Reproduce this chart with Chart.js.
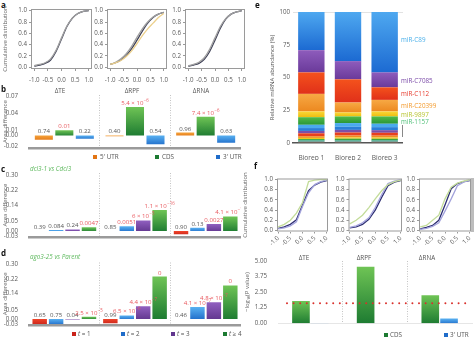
<!DOCTYPE html>
<html>
<head>
<meta charset="utf-8">
<script src="https://cdn.jsdelivr.net/npm/chart.js@4.4.1/dist/chart.umd.min.js"></script>
<style>
  html, body { margin: 0; padding: 0; background: #fff; overflow: hidden; }
  body { width: 474px; height: 340px; position: relative; font-family: 'Open Sans', sans-serif; color: #555; }
  canvas { position: absolute; }
  .txt { position: absolute; white-space: nowrap; line-height: 1; transform: translateY(-50%); }
  .txt.mid { transform: translate(-50%, -50%); }
  .sw { position: absolute; width: 4px; height: 4px; }
</style>
</head>
<body>
<script>
// ---- a: cumulative distributions (ΔTE, ΔRPF, ΔRNA)
const cdfX = [-1.0, -0.8, -0.6, -0.4, -0.2, 0.0, 0.2, 0.4, 0.6, 0.8, 1.0];
const aTeDark = [0.02, 0.04, 0.07, 0.13, 0.28, 0.50, 0.72, 0.87, 0.95, 0.99, 1.00];
const aTeGrey = [0.03, 0.05, 0.08, 0.15, 0.30, 0.52, 0.73, 0.87, 0.95, 0.99, 1.00];
const aRpfDark = [0.05, 0.08, 0.13, 0.21, 0.33, 0.48, 0.64, 0.78, 0.88, 0.94, 0.97];
const aRpfGrey = [0.05, 0.09, 0.15, 0.24, 0.37, 0.53, 0.68, 0.80, 0.89, 0.94, 0.97];
const aRpfYellow = [0.05, 0.08, 0.12, 0.19, 0.29, 0.42, 0.56, 0.68, 0.78, 0.88, 0.95];
const aRnaDark = [0.02, 0.04, 0.07, 0.14, 0.28, 0.48, 0.69, 0.85, 0.94, 0.98, 1.00];
const aRnaGrey = [0.03, 0.05, 0.09, 0.17, 0.32, 0.52, 0.72, 0.86, 0.94, 0.98, 1.00];

// ---- b, c, d: area differences with P values
const groups = ['ΔTE', 'ΔRPF', 'ΔRNA'];
const bUtr5 = [-0.008, -0.0015, 0.005];
const bCds = [0.009, 0.0505, 0.033];
const bUtr3 = [-0.006, -0.016, -0.013];
const bUtr5P = ['0.74', '0.40', '0.96'];
const bCdsP = ['0.01', '5.4 × 10^−6', '7.4 × 10^−6'];
const bUtr3P = ['0.22', '0.54', '0.63'];

const cT1 = [0, 0, -0.017];
const cT2 = [0.006, 0.026, 0.018];
const cT3 = [0.009, 0.057, 0.038];
const cT4 = [0.021, 0.112, 0.078];
const cT1P = ['0.39', '0.85', '0.90'];
const cT2P = ['0.084', '0.0051', '0.13'];
const cT3P = ['0.24', '6 × 10^−5', '0.0027'];
const cT4P = ['0.0047', '1.1 × 10^−16', '4.1 × 10^−12'];

const dT1 = [-0.028, -0.024, 0];
const dT2 = [-0.028, 0.019, 0.066];
const dT3 = [-0.003, 0.069, 0.092];
const dT4 = [0.012, 0.233, 0.184];
const dT1P = ['0.65', '0.99', '0.46'];
const dT2P = ['0.75', '6.5 × 10^−6', '4.1 × 10^−7'];
const dT3P = ['0.04', '4.4 × 10^−7', '4.8 × 10^−7'];
const dT4P = ['2.5 × 10^−5', '0', '0'];

const bTicks = [-0.02, 0.00, 0.01, 0.04, 0.07];
const cdTicks = [-0.03, 0.00, 0.05, 0.14, 0.22, 0.30];

// ---- e: relative miRNA abundance, stacked bottom to top
const bioreps = ['Biorep 1', 'Biorep 2', 'Biorep 3'];
const eMinor1 = [1.0, 1.0, 1.0];
const eMinor2 = [1.0, 1.0, 1.0];
const eMinor3 = [1.0, 1.3, 1.2];
const eMinor4 = [0.9, 1.0, 1.0];
const eMinor5 = [1.3, 1.4, 1.4];
const eMinor6 = [2.2, 2.3, 2.2];
const eMinor7 = [1.8, 2.0, 2.0];
const eMinor8 = [2.2, 2.4, 2.3];
const eMinor9 = [2.5, 2.8, 2.6];
const e1157 = [5.8, 5.1, 5.6];
const e9897 = [4.4, 3.0, 3.8];
const eC20399 = [13.4, 7.6, 8.8];
const eC112 = [16.4, 17.7, 9.6];
const eC7085 = [17.0, 13.9, 11.4];
const eC89 = [29.1, 37.5, 46.1];

// ---- f: cumulative distributions and significance
const cdfX2 = [-1.0, -0.75, -0.5, -0.25, 0.0, 0.25, 0.5, 0.75, 1.0];
const fTeNavy = [0.04, 0.07, 0.12, 0.21, 0.50, 0.78, 0.89, 0.95, 0.98];
const fTeLav = [0.03, 0.05, 0.09, 0.17, 0.47, 0.74, 0.90, 0.96, 0.99];
const fTeGreen = [0.07, 0.12, 0.20, 0.34, 0.55, 0.96, 0.99, 1.00, 1.00];
const fRpfNavy = [0.05, 0.07, 0.12, 0.22, 0.40, 0.65, 0.88, 0.95, 0.98];
const fRpfLav = [0.06, 0.09, 0.15, 0.25, 0.45, 0.70, 0.92, 0.97, 1.00];
const fRpfGreen = [0.13, 0.20, 0.30, 0.45, 0.62, 0.78, 0.90, 0.96, 0.99];
const fRnaNavy = [0.03, 0.06, 0.10, 0.20, 0.50, 0.82, 0.92, 0.96, 0.98];
const fRnaLav = [0.02, 0.04, 0.08, 0.15, 0.38, 0.62, 0.88, 0.95, 0.99];
const fRnaGreen = [0.07, 0.10, 0.20, 0.30, 0.62, 0.85, 0.93, 0.97, 1.00];
const fCds = [1.78, 4.54, 2.26];
const fUtr3 = [0.03, 0, 0.38];
const pThreshold = 1.6;

const cdfTicksX = [-1, -0.5, 0, 0.5, 1];
const cdfTicksY = [0, 0.2, 0.4, 0.6, 0.8, 1.0];

const FONT = "'Open Sans', sans-serif";
const pRed = '#e8585e';

Chart.defaults.font.family = FONT;
Chart.defaults.font.size = 6.2;
Chart.defaults.color = '#5a5a5a';
Chart.defaults.animation = false;
Chart.defaults.plugins.legend.display = false;
Chart.defaults.plugins.tooltip.enabled = false;

function makeCanvas(left, top, w, h) {
  const c = document.createElement('canvas');
  c.width = w; c.height = h;
  c.style.left = left + 'px'; c.style.top = top + 'px';
  c.style.width = w + 'px'; c.style.height = h + 'px';
  document.body.appendChild(c);
  return c;
}

function addText(str, x, y, o = {}) {
  const d = document.createElement('div');
  d.className = o.center ? 'txt mid' : 'txt';
  if (o.html) d.innerHTML = str; else d.textContent = str;
  d.style.left = x + 'px';
  d.style.top = y + 'px';
  d.style.fontSize = (o.size || 6.3) + 'px';
  d.style.color = o.color || '#555';
  if (o.italic) d.style.fontStyle = 'italic';
  if (o.bold) d.style.fontWeight = 'bold';
  document.body.appendChild(d);
}

function addSwatch(x, y, color) {
  const d = document.createElement('div');
  d.className = 'sw';
  d.style.left = x + 'px'; d.style.top = y + 'px';
  d.style.background = color;
  document.body.appendChild(d);
}

// box around the plotting area of the small distribution plots
const framePlugin = {
  id: 'frame',
  afterDraw(chart, args, opts) {
    const { ctx, chartArea: a } = chart;
    ctx.save();
    ctx.strokeStyle = opts.color || '#999';
    ctx.lineWidth = 1;
    ctx.strokeRect(a.left + 0.5, a.top + 0.5, a.width - 1, a.height - 1);
    ctx.restore();
  }
};

// P value above each bar, red when significant, exponent after '^'
const pLabelPlugin = {
  id: 'pLabels',
  afterDatasetsDraw(chart) {
    const ctx = chart.ctx;
    const zero = chart.scales.y.getPixelForValue(0);
    chart.data.datasets.forEach((ds, di) => {
      if (!ds.pLabels) return;
      chart.getDatasetMeta(di).data.forEach((bar, i) => {
        const [base, exp] = ds.pLabels[i].split('^');
        const sig = exp !== undefined || parseFloat(base) < 0.025;
        const y = Math.min(bar.y, zero) - 2;
        ctx.save();
        ctx.fillStyle = sig ? pRed : '#555';
        ctx.textAlign = 'left';
        ctx.textBaseline = 'alphabetic';
        ctx.font = '6.1px ' + FONT;
        const w1 = ctx.measureText(base).width;
        ctx.font = '4.4px ' + FONT;
        const w2 = exp ? ctx.measureText(exp).width + 0.4 : 0;
        const x = bar.x - (w1 + w2) / 2;
        ctx.font = '6.1px ' + FONT;
        ctx.fillText(base, x, y);
        if (exp) {
          ctx.font = '4.4px ' + FONT;
          ctx.fillText(exp, x + w1 + 0.4, y - 3);
        }
        ctx.restore();
      });
    });
  }
};

const thresholdPlugin = {
  id: 'threshold',
  afterDatasetsDraw(chart, args, opts) {
    const { ctx, chartArea: a } = chart;
    const y = chart.scales.y.getPixelForValue(opts.value);
    ctx.save();
    ctx.strokeStyle = opts.color;
    ctx.lineWidth = 2;
    ctx.lineCap = 'round';
    ctx.setLineDash([0, 6.6]);
    ctx.beginPath();
    ctx.moveTo(a.left + 9, y);
    ctx.lineTo(a.right - 2, y);
    ctx.stroke();
    ctx.restore();
  }
};

// vertical gradient from the bar end (light) to the zero line (dark)
function barFill(light, dark) {
  return c => {
    const ch = c.chart;
    if (!ch.chartArea || c.raw === undefined) return dark;
    const y = ch.scales.y;
    const p0 = y.getPixelForValue(0), p1 = y.getPixelForValue(c.raw);
    const g = ch.ctx.createLinearGradient(0, Math.min(p0, p1), 0, Math.max(p0, p1) + 1);
    g.addColorStop(0, light);
    g.addColorStop(1, dark);
    return g;
  };
}

function cdfChart(box, curves, o) {
  const cv = makeCanvas(box.left, box.top, box.w, box.h);
  return new Chart(cv, {
    type: 'line',
    data: {
      datasets: curves.map(cu => ({
        data: o.xs.map((x, i) => ({ x, y: cu.ys[i] })),
        borderColor: cu.color,
        borderWidth: cu.width || 1.3,
        pointRadius: 0,
        fill: false,
        cubicInterpolationMode: o.smooth ? 'monotone' : 'default',
        tension: 0
      }))
    },
    options: {
      responsive: false,
      devicePixelRatio: 1,
      layout: { padding: { top: box.padTop, right: box.padRight, bottom: 0, left: 0 } },
      scales: {
        x: {
          type: 'linear', min: o.xMin, max: o.xMax,
          afterBuildTicks: s => { s.ticks = cdfTicksX.map(v => ({ value: v })); },
          afterFit: s => { s.height = box.xH; },
          ticks: { callback: v => v.toFixed(1), padding: o.xPad, minRotation: o.rot, maxRotation: o.rot, autoSkip: false },
          grid: { drawOnChartArea: false, tickLength: 2, color: '#999' },
          border: { display: false }
        },
        y: {
          min: o.yMin, max: o.yMax,
          afterBuildTicks: s => { s.ticks = cdfTicksY.map(v => ({ value: v })); },
          afterFit: s => { s.width = box.yW; },
          ticks: { callback: v => v.toFixed(1), padding: 2, autoSkip: false },
          grid: { drawOnChartArea: false, tickLength: 2, color: '#999' },
          border: { display: false },
          title: { display: !!box.title, text: box.title || '', color: '#666', font: { size: 6 }, padding: { top: box.titlePad || 3, bottom: 0 } }
        }
      },
      plugins: { frame: { color: '#9a9a9a' } }
    },
    plugins: [framePlugin]
  });
}

function barChart(box, o) {
  const cv = makeCanvas(box.left, box.top, box.w, box.h);
  return new Chart(cv, {
    type: 'bar',
    data: {
      labels: groups,
      datasets: o.series.map(s => ({
        data: s.data,
        pLabels: s.p,
        backgroundColor: barFill(s.light, s.dark),
        borderWidth: 0,
        categoryPercentage: o.cp,
        barPercentage: o.bp
      }))
    },
    options: {
      responsive: false,
      devicePixelRatio: 1,
      layout: { padding: { top: box.padTop, right: box.padRight, bottom: box.padBottom, left: 0 } },
      scales: {
        x: {
          offset: true,
          afterFit: s => { s.height = 0; },
          ticks: { display: false },
          grid: { drawTicks: false, color: c => (c.index >= 1 && c.index <= o.lastDivider) ? '#c4c4c4' : 'rgba(0,0,0,0)' },
          border: { display: o.axisWidth > 0, color: o.axisColor, width: o.axisWidth, dash: [1, 1.5] }
        },
        y: {
          min: o.min, max: o.max,
          afterBuildTicks: s => { s.ticks = o.ticks.map(v => ({ value: v })); },
          afterFit: s => { s.width = box.yW; },
          ticks: { callback: v => v.toFixed(2), padding: 3, autoSkip: false },
          grid: { display: false },
          border: { display: false },
          title: { display: true, text: o.title, color: '#666', font: { size: 6 }, padding: { top: o.titlePad, bottom: 0 } }
        }
      },
      plugins: { threshold: o.threshold || {} }
    },
    plugins: o.threshold ? [thresholdPlugin] : [pLabelPlugin]
  });
}

const GREEN = ['#6fc455', '#1c7a31'];
const BLUE = ['#5ab2f2', '#1f6cc9'];
const ORANGE = ['#f5a23a', '#e27514'];
const RED = ['#f0452a', '#c9231a'];
const PURPLE = ['#9160c0', '#61368e'];

// ---- a
addText('a', 1, 5, { bold: true, size: 8, color: '#111' });
cdfChart({ left: 0, top: 0, w: 100, h: 90, yW: 31, padTop: 9, padRight: 8, xH: 21, title: 'Cumulative distribution', titlePad: 2 },
  [{ ys: aTeGrey, color: '#a0a0a0' }, { ys: aTeDark, color: '#404258' }],
  { xs: cdfX, smooth: true, xMin: -1.12, xMax: 1.12, yMin: -0.03, yMax: 1.03, xPad: 6, rot: 0 });
cdfChart({ left: 80, top: 0, w: 95, h: 90, yW: 27, padTop: 9, padRight: 8, xH: 21 },
  [{ ys: aRpfYellow, color: '#ecd08c' }, { ys: aRpfGrey, color: '#a0a0a0' }, { ys: aRpfDark, color: '#404258' }],
  { xs: cdfX, smooth: true, xMin: -1.12, xMax: 1.12, yMin: -0.03, yMax: 1.03, xPad: 6, rot: 0 });
cdfChart({ left: 158, top: 0, w: 95, h: 90, yW: 27, padTop: 9, padRight: 8, xH: 21 },
  [{ ys: aRnaGrey, color: '#a0a0a0' }, { ys: aRnaDark, color: '#404258' }],
  { xs: cdfX, smooth: true, xMin: -1.12, xMax: 1.12, yMin: -0.03, yMax: 1.03, xPad: 6, rot: 0 });

// ---- b
addText('b', 1, 89, { bold: true, size: 8, color: '#111' });
addText(groups[0], 60, 90.5, { center: true });
addText(groups[1], 132, 90.5, { center: true });
addText(groups[2], 201, 90.5, { center: true });
barChart({ left: 0, top: 85, w: 241, h: 70, yW: 29, padTop: 10, padRight: 0, padBottom: 3 }, {
  min: -0.023, max: 0.072, ticks: bTicks, title: 'Area difference', titlePad: 1.5,
  cp: 0.87, bp: 0.88, lastDivider: 3, axisColor: '#9a9a9a', axisWidth: 2.5,
  series: [
    { data: bUtr5, p: bUtr5P, light: ORANGE[0], dark: ORANGE[1] },
    { data: bCds, p: bCdsP, light: GREEN[0], dark: GREEN[1] },
    { data: bUtr3, p: bUtr3P, light: BLUE[0], dark: BLUE[1] }
  ]
});
addSwatch(93, 155, ORANGE[1]); addText('5′ UTR', 100, 157);
addSwatch(155, 155, GREEN[1]); addText('CDS', 162, 157);
addSwatch(216, 155, BLUE[1]); addText('3′ UTR', 223, 157);

// ---- c
addText('c', 1, 169, { bold: true, size: 8, color: '#111' });
addText('dcl3-1 vs Cdcl3', 30, 169, { italic: true, color: '#5cb85c' });
barChart({ left: 0, top: 165, w: 241, h: 79, yW: 29, padTop: 8, padRight: 0, padBottom: 3 }, {
  min: -0.033, max: 0.31, ticks: cdTicks, title: 'Area difference', titlePad: 1.5,
  cp: 0.93, bp: 0.88, lastDivider: 3, axisColor: '#9a9a9a', axisWidth: 2.5,
  series: [
    { data: cT1, p: cT1P, light: RED[0], dark: RED[1] },
    { data: cT2, p: cT2P, light: BLUE[0], dark: BLUE[1] },
    { data: cT3, p: cT3P, light: PURPLE[0], dark: PURPLE[1] },
    { data: cT4, p: cT4P, light: GREEN[0], dark: GREEN[1] }
  ]
});

// ---- d
addText('d', 1, 253, { bold: true, size: 8, color: '#111' });
addText('ago3-25 vs Parent', 30, 257, { italic: true, color: '#5cb85c' });
barChart({ left: 0, top: 250, w: 241, h: 82, yW: 29, padTop: 12.5, padRight: 0, padBottom: 3.3 }, {
  min: -0.035, max: 0.31, ticks: cdTicks, title: 'Area difference', titlePad: 1.5,
  cp: 0.93, bp: 0.88, lastDivider: 3, axisColor: '#9a9a9a', axisWidth: 2.5,
  series: [
    { data: dT1, p: dT1P, light: RED[0], dark: RED[1] },
    { data: dT2, p: dT2P, light: BLUE[0], dark: BLUE[1] },
    { data: dT3, p: dT3P, light: PURPLE[0], dark: PURPLE[1] },
    { data: dT4, p: dT4P, light: GREEN[0], dark: GREEN[1] }
  ]
});
addSwatch(72, 332, RED[1]); addText('<i>t</i> = 1', 78, 334, { html: true });
addSwatch(121, 332, BLUE[1]); addText('<i>t</i> = 2', 127, 334, { html: true });
addSwatch(171, 332, PURPLE[1]); addText('<i>t</i> = 3', 177, 334, { html: true });
addSwatch(223, 332, GREEN[1]); addText('<i>t</i> ≥ 4', 229, 334, { html: true });

// ---- e
addText('e', 255, 5, { bold: true, size: 8, color: '#111' });
const eSeries = [
  { v: eMinor1, c: ['#8c7262', '#8c7262'] },
  { v: eMinor2, c: ['#2f9c8c', '#2f9c8c'] },
  { v: eMinor3, c: ['#3ea63c', '#3ea63c'] },
  { v: eMinor4, c: ['#f2c81a', '#f2c81a'] },
  { v: eMinor5, c: ['#f08c22', '#f08c22'] },
  { v: eMinor6, c: ['#e8401e', '#e8401e'] },
  { v: eMinor7, c: ['#7d4fa8', '#7d4fa8'] },
  { v: eMinor8, c: ['#2a7fd8', '#2a7fd8'] },
  { v: eMinor9, c: ['#4aaaee', '#4aaaee'] },
  { v: e1157, c: ['#52bb48', '#2a9638'] },
  { v: e9897, c: ['#f8d838', '#eebc10'] },
  { v: eC20399, c: ['#f7a944', '#ec8820'] },
  { v: eC112, c: ['#f4521c', '#e0301a'] },
  { v: eC7085, c: ['#8e5cbc', '#6a3a9a'] },
  { v: eC89, c: ['#4ea8f0', '#1c6ad2'] }
];
function segFill(si) {
  return c => {
    const ch = c.chart;
    const [light, dark] = eSeries[si].c;
    if (!ch.chartArea || c.dataIndex === undefined || light === dark) return dark;
    const i = c.dataIndex;
    let base = 0;
    for (let k = 0; k < si; k++) base += eSeries[k].v[i];
    const y = ch.scales.y;
    const g = ch.ctx.createLinearGradient(0, y.getPixelForValue(base + eSeries[si].v[i]), 0, y.getPixelForValue(base));
    g.addColorStop(0, light);
    g.addColorStop(1, dark);
    return g;
  };
}
new Chart(makeCanvas(262, 0, 141, 160), {
  type: 'bar',
  data: {
    labels: bioreps,
    datasets: eSeries.map((s, si) => ({
      data: s.v, backgroundColor: segFill(si), borderWidth: 0,
      categoryPercentage: 0.72, barPercentage: 1
    }))
  },
  options: {
    responsive: false,
    devicePixelRatio: 1,
    layout: { padding: { top: 12, right: 0, bottom: 0, left: 0 } },
    scales: {
      x: {
        stacked: true,
        afterFit: s => { s.height = 17; },
        grid: { display: false },
        border: { color: '#555', width: 1.5 },
        ticks: { padding: 3.5, font: { size: 6.6 } }
      },
      y: {
        stacked: true, min: 0, max: 100,
        afterBuildTicks: s => { s.ticks = [0, 25, 50, 75, 100].map(v => ({ value: v })); },
        afterFit: s => { s.width = 31; },
        ticks: { padding: 3 },
        grid: { drawTicks: false, color: c => c.tick && c.tick.value === 100 ? '#e2e2e2' : 'rgba(0,0,0,0)' },
        border: { display: false },
        title: { display: true, text: 'Relative miRNA abundance (%)', color: '#555', font: { size: 6 }, padding: { top: 7, bottom: 0 } }
      }
    }
  }
});
addText('miR-C89', 401, 40, { color: '#4ab0ea' });
addText('miR-C7085', 401, 80.5, { color: '#7b4ba8' });
addText('miR-C112', 401, 94, { color: '#e63a2c' });
addText('miR-C20399', 401, 105.5, { color: '#f39a2c' });
addText('miR-9897', 401, 115, { color: '#b8c430' });
addText('miR-1157', 401, 121.5, { color: '#52c07a' });
const tick = document.createElement('div');
tick.style.cssText = 'position:absolute;left:402px;top:125px;width:1px;height:12px;background:#888;';
document.body.appendChild(tick);

// ---- f
addText('f', 254, 166, { bold: true, size: 8, color: '#111' });
const fOpts = { xs: cdfX2, smooth: false, xMin: -1.05, xMax: 1.05, yMin: -0.02, yMax: 1.02, xPad: 1, rot: 45 };
cdfChart({ left: 240, top: 170, w: 94, h: 80, yW: 37, padTop: 8.5, padRight: 6, xH: 18.5, title: 'Cumulative distribution', titlePad: 2 },
  [{ ys: fTeGreen, color: '#c3dc9a' }, { ys: fTeLav, color: '#a4a4dc' }, { ys: fTeNavy, color: '#2e2f72' }], fOpts);
cdfChart({ left: 330, top: 170, w: 78, h: 80, yW: 18.5, padTop: 8.5, padRight: 6, xH: 18.5 },
  [{ ys: fRpfGreen, color: '#c3dc9a' }, { ys: fRpfLav, color: '#a4a4dc' }, { ys: fRpfNavy, color: '#2e2f72' }], fOpts);
cdfChart({ left: 400, top: 170, w: 77, h: 80, yW: 19, padTop: 8.5, padRight: 6, xH: 18.5 },
  [{ ys: fRnaGreen, color: '#c3dc9a' }, { ys: fRnaLav, color: '#a4a4dc' }, { ys: fRnaNavy, color: '#2e2f72' }], fOpts);
const edge = document.createElement('div');
edge.style.cssText = 'position:absolute;left:471px;top:178px;width:3px;height:54px;background:#bdbdbd;';
document.body.appendChild(edge);

addText(groups[0], 304, 257.5, { center: true });
addText(groups[1], 364, 257.5, { center: true });
addText(groups[2], 427, 257.5, { center: true });
barChart({ left: 240, top: 250, w: 234, h: 80, yW: 38, padTop: 11, padRight: 2, padBottom: 3 }, {
  min: 0, max: 5, ticks: [0, 1.25, 2.5, 3.75, 5], title: '−log₁₀(P value)', titlePad: 4,
  cp: 0.58, bp: 0.94, lastDivider: 2,
  axisColor: '#e6e6e6', axisWidth: 1,
  threshold: { value: pThreshold, color: '#d9302c' },
  series: [
    { data: fCds, light: GREEN[0], dark: GREEN[1] },
    { data: fUtr3, light: BLUE[0], dark: BLUE[1] }
  ]
});
addSwatch(384, 333, GREEN[1]); addText('CDS', 390, 335);
addSwatch(444, 333, BLUE[1]); addText('3′ UTR', 450, 335);
</script>
</body>
</html>
